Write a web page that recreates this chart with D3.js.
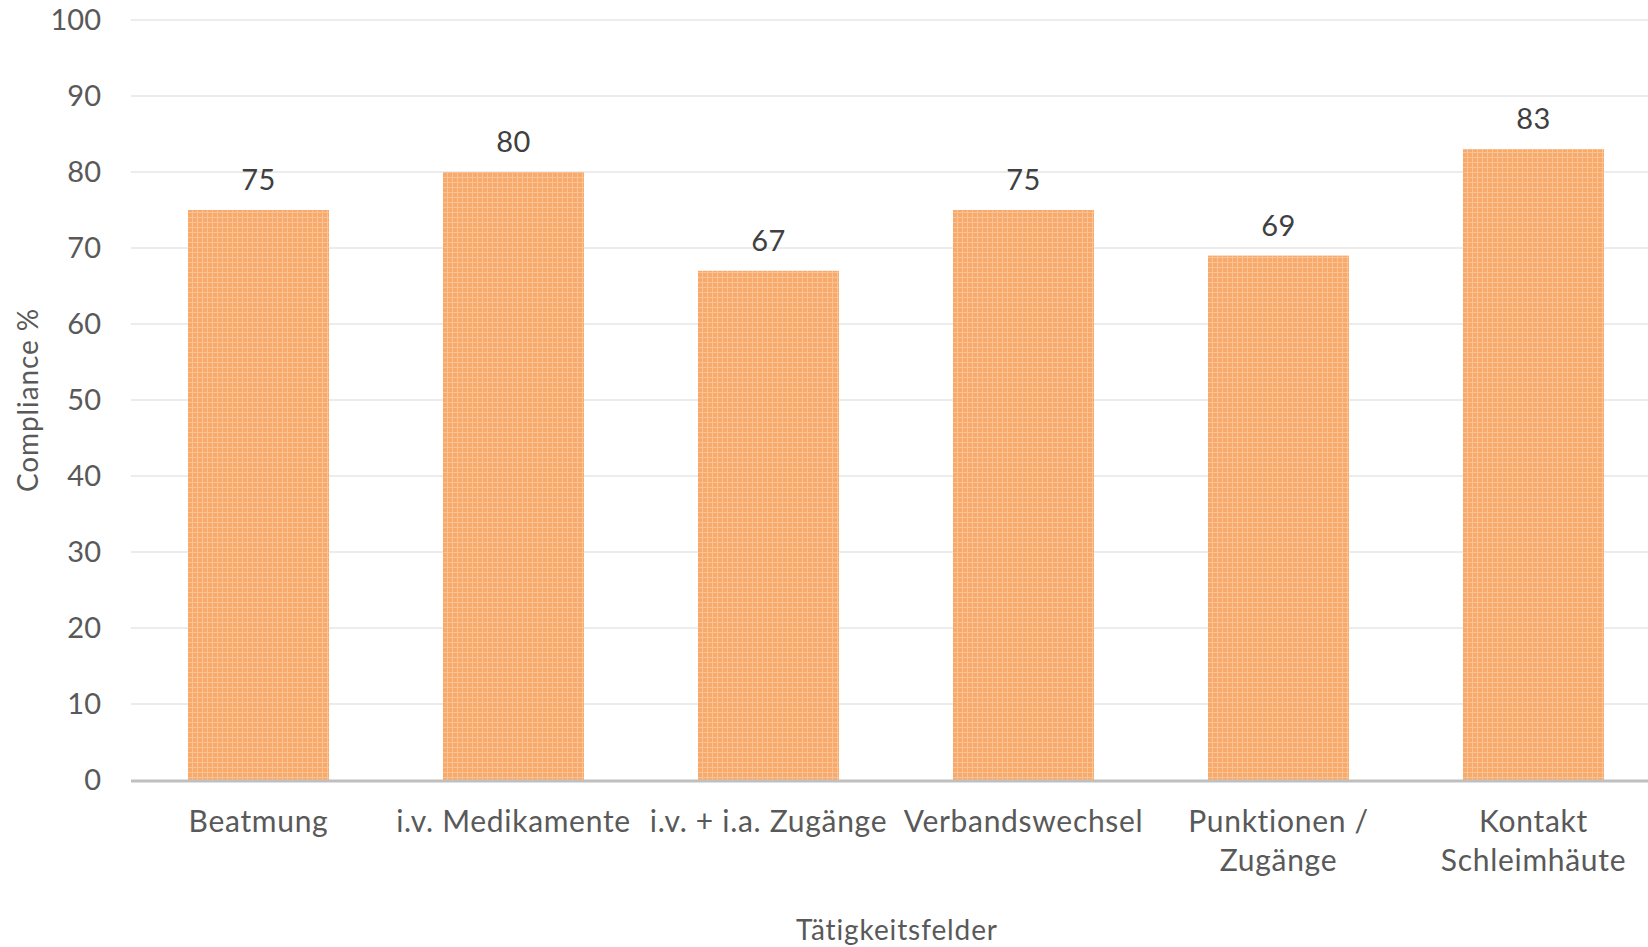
<!DOCTYPE html>
<html>
<head>
<meta charset="utf-8">
<script src="https://cdn.jsdelivr.net/npm/d3@7"></script>
<style>
	body { margin: 0; background: #fff; }
	svg { display: block; font-family: Lato, "Open Sans", sans-serif; }
</style>
</head>
<body>
<div id="chart"></div>
<script>
// chart data
var categories = [
	["Beatmung"],
	["i.v. Medikamente"],
	["i.v. + i.a. Zugänge"],
	["Verbandswechsel"],
	["Punktionen /", "Zugänge"],
	["Kontakt", "Schleimhäute"]
];
var values = [75, 80, 67, 75, 69, 83];
var yTicks = [0, 10, 20, 30, 40, 50, 60, 70, 80, 90, 100];
var xTitle = "Tätigkeitsfelder";
var yTitle = "Compliance %";

var width = 1648, height = 947;
var margin = {top: 20, right: 0, bottom: 167, left: 131};
// the plot area runs a little past the right edge of the picture
var plotRight = 1661;

var svg = d3.select("#chart").append("svg")
	.attr("width", width)
	.attr("height", height);

// orange grid pattern for the bars
var pat = svg.append("defs").append("pattern")
	.attr("id", "barFill")
	.attr("patternUnits", "userSpaceOnUse")
	.attr("width", 5)
	.attr("height", 5);
pat.append("rect").attr("width", 5).attr("height", 5).attr("fill", "#f8a96c");
pat.append("rect").attr("x", 2).attr("width", 1).attr("height", 5).attr("fill", "#fbc393");
pat.append("rect").attr("y", 2).attr("width", 5).attr("height", 1).attr("fill", "#fbc393");

var x = d3.scaleBand()
	.domain(d3.range(categories.length))
	.range([margin.left, plotRight])
	.paddingInner(0.447)
	.paddingOuter(0.2235);

var y = d3.scaleLinear()
	.domain([0, 100])
	.range([height - margin.bottom, margin.top]);

// gridlines
svg.append("g")
	.selectAll("line")
	.data(yTicks.filter(function(d) { return d > 0; }))
	.enter().append("line")
		.attr("x1", margin.left)
		.attr("x2", width - margin.right)
		.attr("y1", function(d) { return y(d); })
		.attr("y2", function(d) { return y(d); })
		.attr("stroke", "#ececec")
		.attr("stroke-width", 2);

// y axis labels
var yAxis = svg.append("g")
	.attr("transform", "translate(" + (margin.left - 30) + ",0)")
	.call(d3.axisLeft(y).tickValues(yTicks).tickSize(0).tickPadding(0));
yAxis.select(".domain").remove();
yAxis.selectAll("text")
	.attr("font-size", 29)
	.attr("font-family", "Lato, sans-serif")
	.attr("fill", "#595959");

// bars
svg.append("g")
	.selectAll("rect")
	.data(values)
	.enter().append("rect")
		.attr("x", function(d, i) { return x(i); })
		.attr("y", function(d) { return y(d); })
		.attr("width", x.bandwidth())
		.attr("height", function(d) { return y(0) - y(d); })
		.attr("fill", "url(#barFill)");

// value labels
svg.append("g")
	.selectAll("text")
	.data(values)
	.enter().append("text")
		.attr("x", function(d, i) { return x(i) + x.bandwidth() / 2; })
		.attr("y", function(d) { return y(d) - 20; })
		.attr("text-anchor", "middle")
		.attr("font-size", 29)
		.attr("letter-spacing", 0.5)
		.attr("fill", "#404040")
		.text(function(d) { return d; });

// x axis baseline
svg.append("line")
	.attr("x1", margin.left)
	.attr("x2", width - margin.right)
	.attr("y1", y(0) + 1)
	.attr("y2", y(0) + 1)
	.attr("stroke", "#bfbfbf")
	.attr("stroke-width", 3);

// category labels
var catLabels = svg.append("g")
	.selectAll("text")
	.data(categories)
	.enter().append("text")
		.attr("x", function(d, i) { return x(i) + x.bandwidth() / 2; })
		.attr("y", y(0) + 52)
		.attr("text-anchor", "middle")
		.attr("font-size", 30)
		.attr("letter-spacing", 0.7)
		.attr("fill", "#595959");
catLabels.selectAll("tspan")
	.data(function(d) { return d; })
	.enter().append("tspan")
		.attr("x", function() { return d3.select(this.parentNode).attr("x"); })
		.attr("dy", function(d, i) { return i ? 39 : 0; })
		.text(function(d) { return d; });

// axis titles
svg.append("text")
	.attr("x", 897)
	.attr("y", 940)
	.attr("text-anchor", "middle")
	.attr("font-size", 28)
	.attr("letter-spacing", 0.9)
	.attr("fill", "#595959")
	.text(xTitle);

svg.append("text")
	.attr("transform", "translate(38," + 400 + ") rotate(-90)")
	.attr("text-anchor", "middle")
	.attr("font-size", 28)
	.attr("letter-spacing", 0.9)
	.attr("fill", "#595959")
	.text(yTitle);
</script>
</body>
</html>
